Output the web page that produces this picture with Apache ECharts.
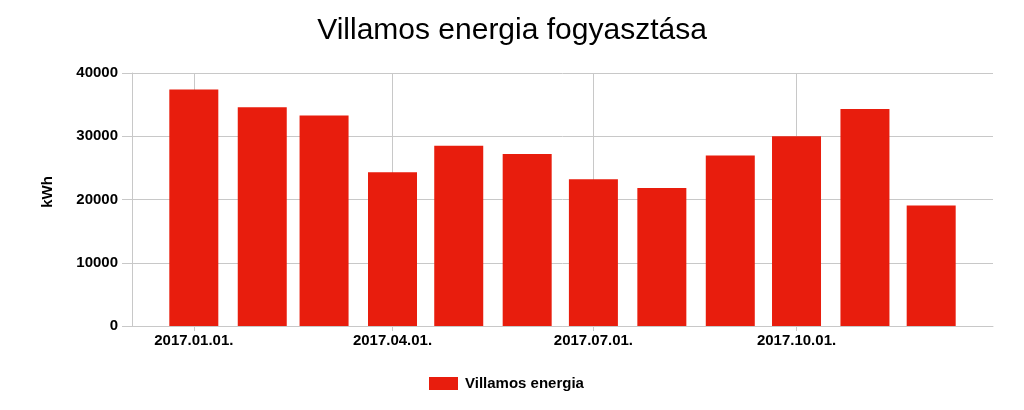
<!DOCTYPE html>
<html>
<head>
<meta charset="utf-8">
<script src="https://cdn.jsdelivr.net/npm/echarts@6/dist/echarts.min.js"></script>
<style>
html,body{margin:0;padding:0;background:#fff;}
#c{width:1024px;height:410px;}
</style>
</head>
<body>
<div id="c"></div>
<script>
const months = ['2017-01-01','2017-02-01','2017-03-01','2017-04-01','2017-05-01','2017-06-01','2017-07-01','2017-08-01','2017-09-01','2017-10-01','2017-11-01','2017-12-01'];
const consumption = [37400, 34600, 33300, 24300, 28500, 27200, 23200, 21800, 26950, 30000, 34300, 19050];
const tickDates = ['2017-01-01','2017-04-01','2017-07-01','2017-10-01'];

function ts(s){ const p = s.split('-').map(Number); return Date.UTC(p[0], p[1]-1, p[2]); }
function fmt(v){ const d = new Date(v); const pad = n => (n<10?'0':'')+n; return d.getUTCFullYear()+'.'+pad(d.getUTCMonth()+1)+'.'+pad(d.getUTCDate())+'.'; }

const tickVals = tickDates.map(ts);
const chart = echarts.init(document.getElementById('c'));
const font = 'Liberation Sans, Arial, sans-serif';
const grid = '#c8c8c8';
chart.setOption({
  animation: false,
  textStyle: { fontFamily: font },
  title: {
    text: 'Villamos energia fogyasztása',
    left: 'center', top: 11,
    textStyle: { fontFamily: font, fontSize: 30, fontWeight: 'normal', color: '#000' }
  },
  legend: {
    top: 371, left: 424,
    data: ['Villamos energia'],
    itemWidth: 29, itemHeight: 13, itemGap: 10,
    icon: 'rect',
    textStyle: { fontFamily: font, fontSize: 15, fontWeight: 'bold', color: '#000', padding: [0,0,0,2] }
  },
  graphic: [{
    type: 'text',
    x: 48, y: 192, rotation: Math.PI / 2,
    style: { text: 'kWh', font: 'bold 15px Liberation Sans, Arial, sans-serif', fill: '#000', align: 'center', verticalAlign: 'middle' }
  }],
  grid: { left: 132, right: 31, top: 73, bottom: 84, containLabel: false },
  xAxis: {
    type: 'value',
    min: ts('2016-12-04'), max: ts('2017-12-29'),
    axisLine: { show: true, lineStyle: { color: grid } },
    axisTick: { show: true, length: 5, customValues: tickVals, lineStyle: { color: grid } },
    axisLabel: { customValues: tickVals, formatter: v => fmt(v), margin: 7, fontFamily: font, fontSize: 15, fontWeight: 'bold', color: '#000', hideOverlap: false },
    splitLine: { show: false }
  },
  yAxis: {
    type: 'value', min: 0, max: 40000, interval: 10000,
    axisLine: { show: true, lineStyle: { color: grid } },
    axisTick: { show: true, length: 10, lineStyle: { color: grid } },
    axisLabel: { margin: 14, formatter: v => String(v), fontFamily: font, fontSize: 15, fontWeight: 'bold', color: '#000' },
    splitLine: { show: true, lineStyle: { color: grid } }
  },
  series: [{
    name: 'grid',
    type: 'line',
    z: 0,
    data: [],
    silent: true,
    markLine: {
      z: 0,
      silent: true, symbol: 'none', label: { show: false },
      lineStyle: { color: grid, type: 'solid', width: 1 },
      data: tickVals.map(v => ({ xAxis: v }))
    }
  }, {
    name: 'Villamos energia',
    type: 'bar',
    z: 2,
    barWidth: 49,
    itemStyle: { color: '#e81d0d' },
    data: months.map((m, i) => [ts(m), consumption[i]])
  }]
});
</script>
</body>
</html>
